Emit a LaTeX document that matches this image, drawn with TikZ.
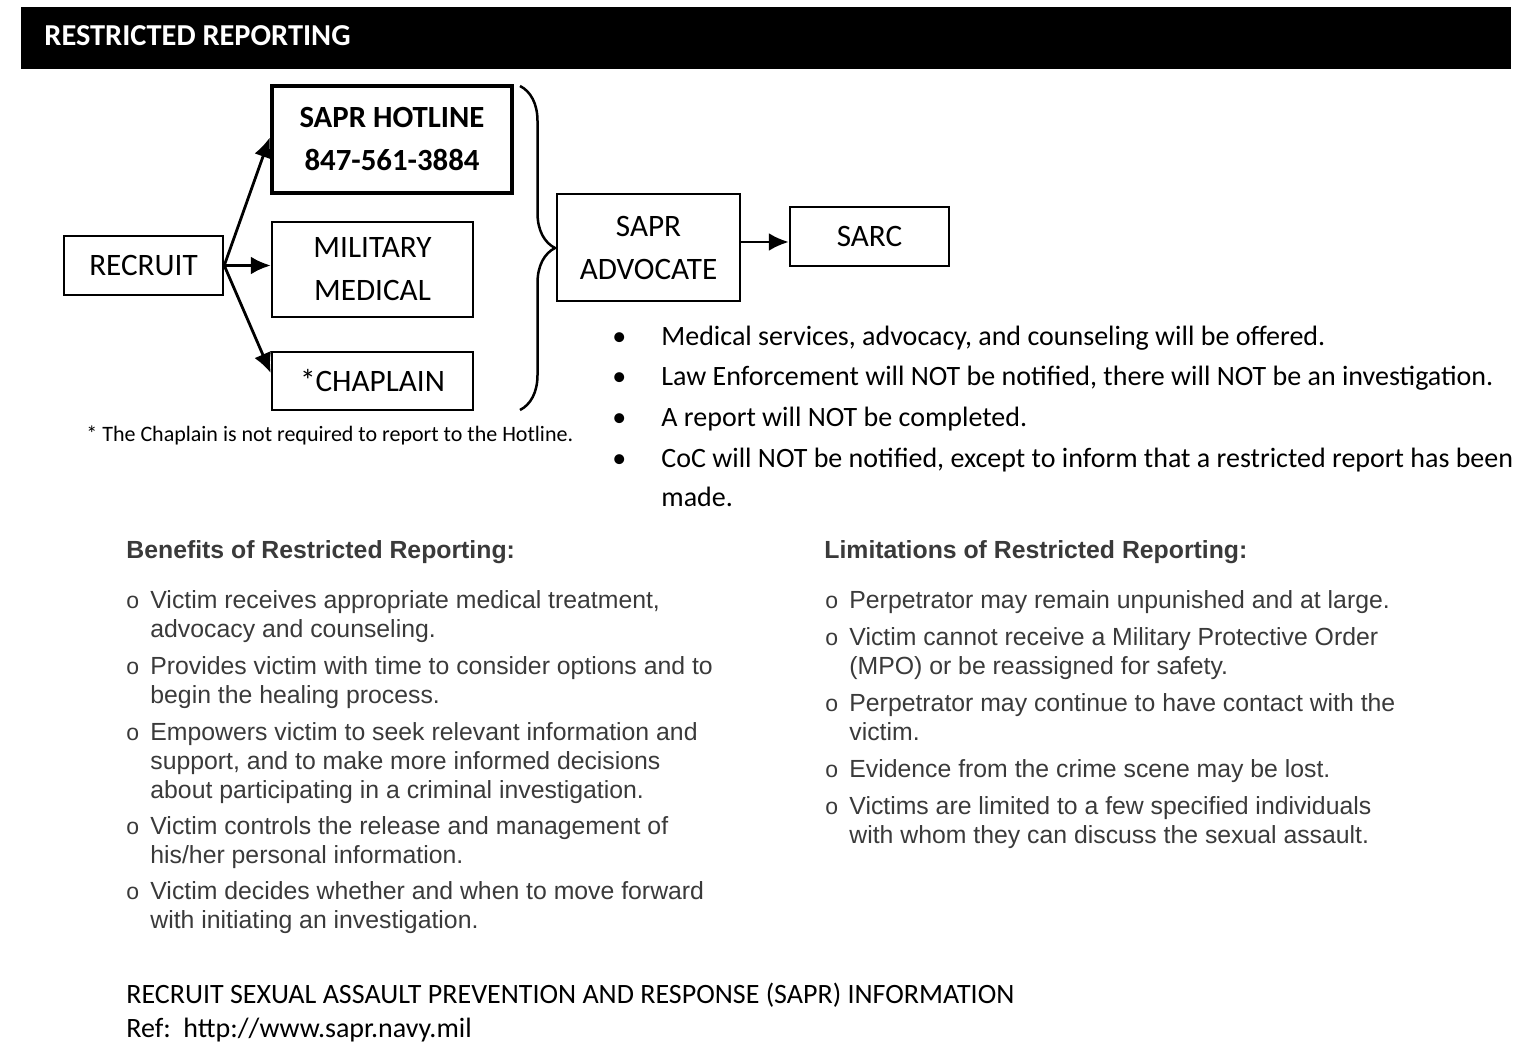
\documentclass[tikz,border=0pt]{standalone}
\usepackage{fontspec}
\setmainfont{Carlito}
\newfontfamily\arialfont{Liberation Sans}
\usetikzlibrary{arrows.meta,decorations.pathreplacing}
\definecolor{listgrey}{HTML}{3A3A3A}
\newcommand{\itemlines}[1]{\begin{tabular}[t]{@{}l@{}}#1\end{tabular}}

\tikzset{
  box/.style={draw, line width=1.25pt, align=center, inner sep=0pt,
    font=\fontsize{15.6}{21.5}\selectfont},
  arr/.style={line width=1.4pt, -{Latex[length=10pt,width=9pt]}},
  bul/.style={anchor=base west, inner sep=0pt, font=\fontsize{14}{20}\selectfont},
  head/.style={anchor=base west, inner sep=0pt, text=listgrey,
    font=\arialfont\bfseries\fontsize{12.4}{14.5}\selectfont},
  li/.style={anchor=base west, inner sep=0pt, text=listgrey,
    font=\arialfont\fontsize{12.4}{14.5}\selectfont},
  circ/.style={anchor=base west, inner sep=0pt, text=listgrey,
    font=\arialfont\fontsize{11.5}{12}\selectfont},
}

\begin{document}
\begin{tikzpicture}[x=0.5pt,y=-0.5pt]
\useasboundingbox (0,0) rectangle (1534,1047);

% title bar
\fill (21,7) rectangle (1511,69);
\node [anchor=base west, inner sep=0pt, text=white, font=\bfseries\fontsize{15.2}{17}\selectfont] (title) at (44,46) {RESTRICTED REPORTING};

% boxes
\node [box, minimum width=79.5pt, minimum height=29.5pt] (recruit) at (143.5,265.5) {RECRUIT};
\node [box, line width=2.25pt, font=\bfseries\fontsize{15.4}{21.5}\selectfont, minimum width=120pt, minimum height=53.5pt] (hotline) at (392,139.5) {SAPR HOTLINE\\847-561-3884};
\node [box, minimum width=100.5pt, minimum height=47.5pt] (military) at (372.5,269.5) {MILITARY\\MEDICAL};
\node [box, minimum width=100.5pt, minimum height=29pt] (chaplain) at (372.5,381) {*CHAPLAIN};
\node [box, minimum width=91.5pt, minimum height=53.5pt] (advocate) at (648.5,247.5) {SAPR\\ADVOCATE};
\node [box, minimum width=79.5pt, minimum height=29.5pt] (sarc) at (869.5,236.5) {SARC};

% arrows
\draw [arr] (recruit.east) -- ([yshift=1pt]hotline.west);
\draw [arr] (recruit.east) -- (recruit.east -| military.west);
\draw [arr] (recruit.east) -- ([yshift=4pt]chaplain.west);
\draw [arr] ([yshift=2.75pt]advocate.east) -- ([yshift=2.75pt]advocate.east -| sarc.west);

% brace
\coordinate (bracetop) at (520,86);
\coordinate (bracebot) at (520,410);
\draw [line width=1.25pt, decorate, decoration={brace, amplitude=17.5pt}] (bracetop) -- (bracebot);

\node [anchor=base west, inner sep=0pt, font=\fontsize{11}{13}\selectfont] (note) at (86,441) {* The Chaplain is not required to report to the Hotline.};

% bullets
\node [bul] (dot1) at (612,346) {•};
\node [bul] (txt1) at (661,346) {Medical services, advocacy, and counseling will be offered.};
\node [bul] (dot2) at (612,386) {•};
\node [bul] (txt2) at (661,386) {Law Enforcement will NOT be notified, there will NOT be an investigation.};
\node [bul] (dot3) at (612,426) {•};
\node [bul] (txt3) at (661,426) {A report will NOT be completed.};
\node [bul] (dot4) at (612,467) {•};
\node [bul] (txt4) at (661,467) {CoC will NOT be notified, except to inform that a restricted report has been};
\node [bul] (txt5) at (661,506) {made.};

% benefits
\node [head] (benhead) at (126,558) {Benefits of Restricted Reporting:};
\node [circ] (bo1) at (126,608) {o};
\node [li] (ben1) at (150,608) {\itemlines{Victim receives appropriate medical treatment,\\advocacy and counseling.}};
\node [circ] (bo2) at (126,674) {o};
\node [li] (ben2) at (150,674) {\itemlines{Provides victim with time to consider options and to\\begin the healing process.}};
\node [circ] (bo3) at (126,740) {o};
\node [li] (ben3) at (150,740) {\itemlines{Empowers victim to seek relevant information and\\support, and to make more informed decisions\\about participating in a criminal investigation.}};
\node [circ] (bo4) at (126,834) {o};
\node [li] (ben4) at (150,834) {\itemlines{Victim controls the release and management of\\his/her personal information.}};
\node [circ] (bo5) at (126,899) {o};
\node [li] (ben5) at (150,899) {\itemlines{Victim decides whether and when to move forward\\with initiating an investigation.}};

% limitations
\node [head] (limhead) at (824,558) {Limitations of Restricted Reporting:};
\node [circ] (lo1) at (825,608) {o};
\node [li] (lim1) at (849,608) {Perpetrator may remain unpunished and at large.};
\node [circ] (lo2) at (825,645) {o};
\node [li] (lim2) at (849,645) {\itemlines{Victim cannot receive a Military Protective Order\\(MPO) or be reassigned for safety.}};
\node [circ] (lo3) at (825,711) {o};
\node [li] (lim3) at (849,711) {\itemlines{Perpetrator may continue to have contact with the\\victim.}};
\node [circ] (lo4) at (825,777) {o};
\node [li] (lim4) at (849,777) {Evidence from the crime scene may be lost.};
\node [circ] (lo5) at (825,814) {o};
\node [li] (lim5) at (849,814) {\itemlines{Victims are limited to a few specified individuals\\with whom they can discuss the sexual assault.}};

% footer
\node [anchor=base west, inner sep=0pt, font=\fontsize{14}{17}\selectfont] (foot1) at (126,1003) {RECRUIT SEXUAL ASSAULT PREVENTION AND RESPONSE (SAPR) INFORMATION};
\node [anchor=base west, inner sep=0pt, font=\fontsize{14}{17}\selectfont] (foot2) at (126,1037) {Ref:\ \ http://www.sapr.navy.mil};
\end{tikzpicture}
\end{document}
